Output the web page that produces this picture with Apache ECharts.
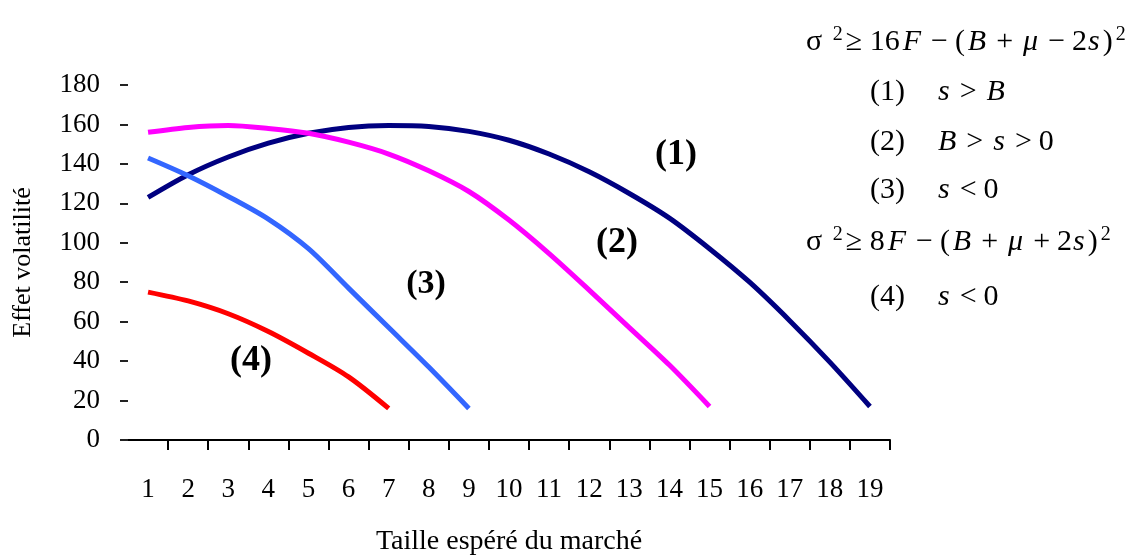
<!DOCTYPE html>
<html>
<head>
<meta charset="utf-8">
<script src="https://cdn.jsdelivr.net/npm/echarts@6/dist/echarts.min.js"></script>
<style>
  html, body { margin: 0; padding: 0; background: #fff; }
  #chart { width: 1143px; height: 556px; }
</style>
</head>
<body>
<div id="chart"></div>
<script>
const categories = ['1', '2', '3', '4', '5', '6', '7', '8', '9', '10', '11', '12', '13', '14', '15', '16', '17', '18', '19']
// (1) s > B
const curve1 = [123, 134.5, 143.5, 150.5, 155.5, 158.5, 159.5, 159, 156.5, 152, 145, 136, 125, 112.5, 97, 80, 60.5, 39.5, 17]
// (2) B > s > 0
const curve2 = [156, 158.5, 159.5, 158, 155.5, 151, 145, 136.5, 126, 111.5, 94.5, 76, 57, 38, 17]
// (3) s < 0
const curve3 = [143, 134, 123.5, 112, 97, 77, 57, 37, 16]
// (4) s < 0
const curve4 = [75, 70.5, 64, 55, 44, 32, 16]

const serif = '"Liberation Serif", "Times New Roman", serif'

const chart = echarts.init(document.getElementById('chart'))

const lineSeries = (name, data, color) => ({
    name: name,
    type: 'line',
    data: data,
    smooth: 0.3,
    symbol: 'none',
    lineStyle: { color: color, width: 5 },
    z: 3
})

// texte des formules à droite
const rich = {
    n: { fontFamily: serif, fontSize: 30, color: '#000' },
    o: { fontFamily: serif, fontSize: 30, color: '#000', padding: [0, 7, 0, 7] },
    i: { fontFamily: serif, fontSize: 30, fontStyle: 'italic', color: '#000', padding: [0, 3, 0, 3] },
    j: { fontFamily: serif, fontSize: 30, fontStyle: 'italic', color: '#000', padding: [0, 3, 0, 1] },
    sup: { fontFamily: serif, fontSize: 20, color: '#000', padding: [0, 3, 15, 3] }
}
const formula = (text, x, y) => ({
    type: 'text',
    x: x,
    y: y,
    style: { text: text, rich: rich, verticalAlign: 'middle', fill: '#000' }
})
const label = (text, x, y, size) => ({
    type: 'text',
    x: x,
    y: y,
    style: {
        text: text,
        font: 'bold ' + size + 'px ' + serif,
        fill: '#000',
        align: 'center',
        verticalAlign: 'middle'
    }
})

chart.setOption({
    backgroundColor: '#fff',
    animation: false,
    grid: { left: 128, right: 253, top: 85, bottom: 116, outerBoundsMode: 'none', containLabel: false },
    xAxis: {
        type: 'category',
        data: categories,
        boundaryGap: true,
        name: 'Taille espéré du marché',
        nameLocation: 'middle',
        nameGap: 88,
        nameTextStyle: { fontFamily: serif, fontSize: 28, color: '#000' },
        axisLine: { lineStyle: { color: '#000', width: 2 } },
        axisTick: {
            show: true,
            interval: (index) => index !== 0,
            lineStyle: { color: '#000', width: 2 },
            length: 10
        },
        axisLabel: { fontFamily: serif, fontSize: 27, color: '#000', margin: 36, interval: 0 }
    },
    yAxis: {
        type: 'value',
        min: 0,
        max: 180,
        interval: 20,
        name: 'Effet volatilité',
        nameLocation: 'middle',
        nameGap: 92,
        nameTextStyle: { fontFamily: serif, fontSize: 26, color: '#000' },
        axisLine: { show: false },
        axisTick: { show: true, length: 8, lineStyle: { color: '#222', width: 2 } },
        splitLine: { show: false },
        axisLabel: { fontFamily: serif, fontSize: 27, color: '#000', margin: 28 }
    },
    series: [
        lineSeries('(1)', curve1, '#000080'),
        lineSeries('(2)', curve2, '#ff00ff'),
        lineSeries('(3)', curve3, '#3366ff'),
        lineSeries('(4)', curve4, '#ff0000')
    ],
    graphic: [
        label('(1)', 676, 155, 36),
        label('(2)', 617, 243, 36),
        label('(3)', 426, 284, 34),
        label('(4)', 251, 361, 36),
        formula('{n|σ }{sup|2}{n|≥ 16}{i|F}{o|−}{n|(}{i|B}{o|+}{i|μ}{o|−}{n|2}{j|s}{n|)}{sup|2}', 806, 42),
        formula('{n|(1)    }{i|s}{o|>}{i|B}', 870, 92),
        formula('{n|(2)    }{i|B}{o|>}{i|s}{o|>}{n|0}', 870, 142),
        formula('{n|(3)    }{i|s}{o|<}{n|0}', 870, 190),
        formula('{n|σ }{sup|2}{n|≥ 8}{i|F}{o|−}{n|(}{i|B}{o|+}{i|μ}{o|+}{n|2}{j|s}{n|)}{sup|2}', 806, 242),
        formula('{n|(4)    }{i|s}{o|<}{n|0}', 870, 297)
    ]
})

window.addEventListener('resize', () => {
    chart.resize()
})
</script>
</body>
</html>
